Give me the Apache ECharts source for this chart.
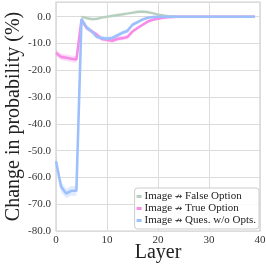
<!DOCTYPE html>
<html><head><meta charset="utf-8">
<script src="https://cdn.jsdelivr.net/npm/echarts@6/dist/echarts.min.js"></script>
<style>html,body{margin:0;padding:0;background:#fff}#c{width:266px;height:266px}</style>
</head><body><div id="c"></div>
<script>
const layers = [0,1,2,3,4,5,6,7,8,9,10,11,12,13,14,15,16,17,18,19,20,21,22,23,24,25,26,27,28,29,30,31,32,33,34,35,36,37,38,39,40];
const falseOpt = [null,null,null,null,null,0,-0.5,-0.9,-0.8,-0.3,0,0.3,0.6,0.9,1.2,1.5,1.8,1.9,1.7,1.3,0.8,0.5,0.2,0.1,0,0,0,0,0,0,0,0,0,0,0,0,0,0,0,0,null];
const trueOpt = [-13.5,-15,-15.3,-15.7,-16,-1.2,-4.2,-5.5,-6.7,-8.3,-8.6,-9,-8.3,-8,-7.6,-5.5,-4.2,-3,-1.8,-1.1,-0.7,-0.4,-0.2,-0.1,0,0,0,0,0,0,0,0,0,0,0,0,0,0,0,0,null];
const quesOpt = [-54,-63.5,-66,-65,-65,-0.8,-4,-5.5,-7.5,-8,-8.2,-8,-7,-6,-5.3,-3,-2,-1,-0.4,-0.1,0,0,0,0,0,0,0,0,0,0,0,0,0,0,0,0,0,0,0,0,null];
const falseErr = [0,0,0,0,0,0.5,0.6,0.6,0.6,0.6,0.6,0.6,0.6,0.6,0.6,0.6,0.6,0.6,0.6,0.5,0.5,0.4,0.3,0.2,0.1,0.1,0.1,0.1,0.1,0.1,0.1,0.1,0.1,0.1,0.1,0.1,0.1,0.1,0.1,0.1,null];
const trueErr = [1.2,1.2,1.2,1.2,1.2,0.6,0.8,0.8,0.8,0.8,0.8,0.8,0.8,0.8,0.8,0.7,0.6,0.5,0.4,0.3,0.3,0.2,0.2,0.1,0.1,0.1,0.1,0.1,0.1,0.1,0.1,0.1,0.1,0.1,0.1,0.1,0.1,0.1,0.1,0.1,null];
const quesErr = [2,2,1.8,1.8,1.8,0.6,0.8,0.8,0.8,0.8,0.8,0.8,0.8,0.8,0.8,0.7,0.6,0.5,0.4,0.3,0.2,0.2,0.1,0.1,0.1,0.1,0.1,0.1,0.1,0.1,0.1,0.1,0.1,0.1,0.1,0.1,0.1,0.1,0.1,0.1,null];
const names = ['Image \u219B False Option','Image \u219B True Option','Image \u219B Ques. w/o Opts.'];
const colors = ['#b6cfbe','#f78ce8','#9dc0fc'];
const yTicks = [-80,-70,-60,-50,-40,-30,-20,-10,0];

const seriesVals = [falseOpt, trueOpt, quesOpt];
const seriesErr = [falseErr, trueErr, quesErr];
const series = [];
seriesVals.forEach((vals, i) => {
  const lower = vals.map((v, k) => v == null ? '-' : v - seriesErr[i][k]);
  const band = vals.map((v, k) => v == null ? '-' : 2 * seriesErr[i][k]);
  series.push({type:'line', stack:'b'+i, stackStrategy:'all', data:lower, symbol:'none', silent:true,
    lineStyle:{opacity:0}, z:1});
  series.push({type:'line', stack:'b'+i, stackStrategy:'all', data:band, symbol:'none', silent:true,
    lineStyle:{opacity:0}, areaStyle:{color:colors[i], opacity:0.3}, z:1});
});
seriesVals.forEach((vals, i) => {
  series.push({type:'line', name:names[i], data:vals.map(v => v == null ? '-' : v),
    symbol:'none', lineStyle:{width:i === 0 ? 2.2 : 2.6, color:colors[i]}, itemStyle:{color:colors[i]}, z:5+i});
});

const chart = echarts.init(document.getElementById('c'), null, {renderer:'canvas'});
const serif = 'Liberation Serif';
chart.setOption({
  animation:false,
  backgroundColor:'#fff',
  grid:{left:56, right:6, top:2, bottom:35, containLabel:false, outerBoundsMode:'none',
    show:true, borderColor:'#d0d0d0', borderWidth:1.2, backgroundColor:'#fff'},
  xAxis:{type:'category', data:layers.map(String), boundaryGap:false,
    name:'Layer', nameLocation:'middle', nameGap:12, nameMoveOverlap:false,
    nameTextStyle:{fontFamily:serif, fontSize:20, color:'#222'},
    axisLine:{show:false}, axisTick:{show:false},
    axisLabel:{fontFamily:serif, fontSize:11, color:'#333', margin:4, interval:9, showMaxLabel:true},
    splitLine:{show:true, interval:9, lineStyle:{color:'#dcdcdc', width:1}}},
  yAxis:{type:'value', min:-80, max:5.5, interval:10,
    name:'Change in probability (%)', nameLocation:'middle', nameGap:32, nameMoveOverlap:false,
    nameTextStyle:{fontFamily:serif, fontSize:20, color:'#222'},
    axisLine:{show:false}, axisTick:{show:false},
    axisLabel:{fontFamily:serif, fontSize:11, color:'#333', margin:5, showMaxLabel:false,
      formatter:v => yTicks.includes(v) ? v.toFixed(1) : ''},
    splitLine:{lineStyle:{color:'#dcdcdc', width:1}}},
  legend:{data:names, orient:'vertical', right:7, bottom:37, itemGap:1,
    icon:'rect', itemWidth:5, itemHeight:3, padding:[3,3,3,2],
    backgroundColor:'rgba(255,255,255,0.85)', borderColor:'#cccccc', borderWidth:1, borderRadius:3,
    formatter: n => n.replace('\u219B', '{a|\u219B}'),
    textStyle:{fontFamily:serif, fontSize:11, color:'#222', padding:[0,0,0,-2],
      rich:{a:{fontFamily:'DejaVu Sans', fontSize:9, color:'#222'}}}},
  series:series
});
</script></body></html>
